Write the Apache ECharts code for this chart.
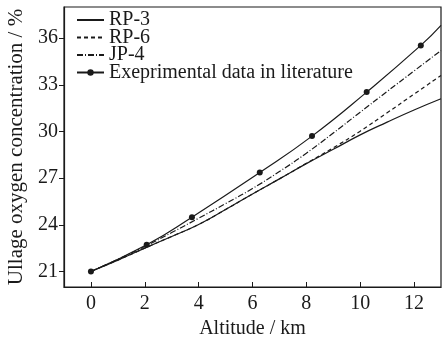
<!DOCTYPE html>
<html>
<head>
<meta charset="utf-8">
<script src="https://cdn.jsdelivr.net/npm/echarts@6/dist/echarts.min.js"></script>
<style>
    html, body { margin: 0; padding: 0; background: #fff; }
    #chart { width: 442px; height: 338px; }
</style>
</head>
<body>
<div id="chart"></div>
<script>
// values
var xTicks = [0, 2, 4, 6, 8, 10, 12];
var yTicks = [21, 24, 27, 30, 33, 36];

var altitude = [0, 1, 2, 3, 4, 5, 6, 7, 8, 9, 10, 11, 12, 13];
var rp3 = [21, 21.73, 22.5, 23.25, 24.02, 24.98, 25.98, 26.95, 27.93, 28.85, 29.78, 30.6, 31.38, 32.1];
var rp6 = [21, 21.73, 22.5, 23.25, 24.02, 24.98, 25.98, 26.95, 27.95, 28.95, 30.02, 31.2, 32.4, 33.6];
var jp4 = [21, 21.78, 22.6, 23.5, 24.42, 25.36, 26.33, 27.42, 28.6, 29.9, 31.24, 32.57, 33.89, 35.2];

var expX = [0, 2.07, 3.75, 6.27, 8.21, 10.24, 12.25, 13];
var expY = [21, 22.71, 24.49, 27.36, 29.70, 32.53, 35.53, 36.82];

var names = ['RP-3', 'RP-6', 'JP-4', 'Exeprimental data in literature'];

var ink = '#1a1a1a';
var serif = 'Liberation Serif';

function pairs(xs, ys) {
    return xs.map(function (x, i) { return [x, ys[i]]; });
}

var expData = pairs(expX, expY).map(function (p, i) {
    // last point is only where the line leaves the frame, no dot there
    if (i == expX.length - 1) return { value: p, symbol: 'none' };
    return p;
});

// legend: plain line for the model curves, line + dot for the data
var legendData = names.map(function (n, i) {
    if (i < 3) return { name: n, itemStyle: { opacity: 0 } };
    return { name: n };
});

var chart = echarts.init(document.getElementById('chart'));

var option = {
    animation: false,
    textStyle: { fontFamily: serif, color: ink },
    grid: {
        left: 64, right: 1, top: 7, bottom: 51,
        outerBoundsMode: 'none',
        show: true, borderColor: ink, borderWidth: 1.2
    },
    legend: {
        orient: 'vertical',
        left: 76, top: 10, padding: 0,
        itemWidth: 27, itemHeight: 8, itemGap: -2.5,
        textStyle: { fontFamily: serif, fontSize: 20, color: ink, lineHeight: 17 },
        data: legendData
    },
    xAxis: {
        type: 'value',
        min: -1, max: 13,
        name: 'Altitude / km',
        nameLocation: 'middle',
        nameGap: 29,
        nameTextStyle: { fontFamily: serif, fontSize: 20, color: ink },
        splitLine: { show: false },
        axisLine: { onZero: false, lineStyle: { color: ink, width: 1.2 } },
        axisTick: { inside: true, length: 5, customValues: xTicks, lineStyle: { color: ink } },
        axisLabel: { customValues: xTicks, margin: 7, fontFamily: serif, fontSize: 20, color: ink }
    },
    yAxis: {
        type: 'value',
        min: 20, max: 38,
        name: 'Ullage oxygen concentration / %',
        nameLocation: 'middle',
        nameGap: 33,
        nameTextStyle: { fontFamily: serif, fontSize: 21, color: ink },
        splitLine: { show: false },
        axisLine: { onZero: false, lineStyle: { color: ink, width: 1.2 } },
        axisTick: { inside: false, length: 5, customValues: yTicks, lineStyle: { color: ink } },
        axisLabel: { customValues: yTicks, margin: 6, fontFamily: serif, fontSize: 20, color: ink }
    },
    series: [
        {
            name: names[0], type: 'line', smooth: true, symbol: 'none',
            lineStyle: { color: ink, width: 1.2 },
            itemStyle: { color: ink },
            data: pairs(altitude, rp3)
        },
        {
            name: names[1], type: 'line', smooth: true, symbol: 'none',
            lineStyle: { color: ink, width: 1.2, type: [4, 3] },
            itemStyle: { color: ink },
            data: pairs(altitude, rp6)
        },
        {
            name: names[2], type: 'line', smooth: true, symbol: 'none',
            lineStyle: { color: ink, width: 1.2, type: [6, 2, 1, 2] },
            itemStyle: { color: ink },
            data: pairs(altitude, jp4)
        },
        {
            name: names[3], type: 'line', smooth: true,
            symbol: 'circle', symbolSize: 6,
            lineStyle: { color: ink, width: 1.2 },
            itemStyle: { color: ink },
            data: expData
        }
    ]
};

chart.setOption(option);
</script>
</body>
</html>
